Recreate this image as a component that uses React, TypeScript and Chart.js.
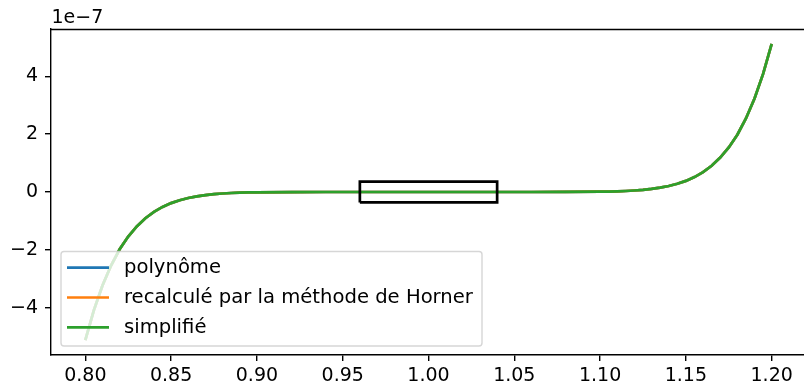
import React, { useEffect, useRef } from "react";
import { Chart, registerables } from "chart.js";

Chart.register(...registerables);

// x positions of the sampled curve
const xValues = [
  0.8, 0.805, 0.81, 0.815, 0.82, 0.825, 0.83, 0.835, 0.84, 0.845, 0.85, 0.855, 0.86, 0.865, 0.87, 0.875,
  0.88, 0.885, 0.89, 0.895, 0.9, 0.92, 0.94, 0.96, 0.98, 1.0, 1.02, 1.04, 1.06, 1.08, 1.1, 1.105, 1.11,
  1.115, 1.12, 1.125, 1.13, 1.135, 1.14, 1.145, 1.15, 1.155, 1.16, 1.165, 1.17, 1.175, 1.18, 1.185, 1.19,
  1.195, 1.2,
];

// values in units of 1e-7
const polynomeValues = [
  -5.12, -4.08, -3.23, -2.54, -1.98, -1.54, -1.19, -0.906, -0.687, -0.516, -0.384, -0.283, -0.207, -0.149,
  -0.106, -0.0745, -0.0516, -0.0352, -0.0236, -0.0155, -0.01, -0.0013, -0.0001, 0, 0, 0, 0, 0, 0.0001,
  0.0013, 0.01, 0.0155, 0.0236, 0.0352, 0.0516, 0.0745, 0.106, 0.149, 0.207, 0.283, 0.384, 0.516, 0.687,
  0.906, 1.19, 1.54, 1.98, 2.54, 3.23, 4.08, 5.12,
];
const hornerValues = [
  -5.12, -4.08, -3.23, -2.54, -1.98, -1.54, -1.19, -0.906, -0.687, -0.516, -0.384, -0.283, -0.207, -0.149,
  -0.106, -0.0745, -0.0516, -0.0352, -0.0236, -0.0155, -0.01, -0.0013, -0.0001, 0, 0, 0, 0, 0, 0.0001,
  0.0013, 0.01, 0.0155, 0.0236, 0.0352, 0.0516, 0.0745, 0.106, 0.149, 0.207, 0.283, 0.384, 0.516, 0.687,
  0.906, 1.19, 1.54, 1.98, 2.54, 3.23, 4.08, 5.12,
];
const simplifieValues = [
  -5.12, -4.08, -3.23, -2.54, -1.98, -1.54, -1.19, -0.906, -0.687, -0.516, -0.384, -0.283, -0.207, -0.149,
  -0.106, -0.0745, -0.0516, -0.0352, -0.0236, -0.0155, -0.01, -0.0013, -0.0001, 0, 0, 0, 0, 0, 0.0001,
  0.0013, 0.01, 0.0155, 0.0236, 0.0352, 0.0516, 0.0745, 0.106, 0.149, 0.207, 0.283, 0.384, 0.516, 0.687,
  0.906, 1.19, 1.54, 1.98, 2.54, 3.23, 4.08, 5.12,
];

// zoom rectangle corners
const boxX = [0.96, 1.04, 1.04, 0.96, 0.96];
const boxY = [-0.36, -0.36, 0.36, 0.36, -0.36];

const seriesLabels = ["polynôme", "recalculé par la méthode de Horner", "simplifié"];
const seriesColors = ["#1f77b4", "#ff7f0e", "#2ca02c"];

const xTicks = [0.8, 0.85, 0.9, 0.95, 1.0, 1.05, 1.1, 1.15, 1.2];
const yTicks = [-4, -2, 0, 2, 4];
const offsetLabel = "1e\u22127";

const FONT = "DejaVu Sans";
const FS = 19;
const LEGEND_FS = 19.6;

export default function App() {
  const ref = useRef<HTMLCanvasElement | null>(null);

  useEffect(() => {
    document.body.style.margin = "0";
    const canvas = ref.current;
    if (!canvas) return;

    const toPts = (ys: number[]) => xValues.map((x, i) => ({ x, y: ys[i] }));
    const all = [polynomeValues, hornerValues, simplifieValues];

    const datasets: any[] = all.map((vals, i) => ({
      label: seriesLabels[i],
      data: toPts(vals),
      borderColor: seriesColors[i],
      backgroundColor: seriesColors[i],
      borderWidth: 2.7,
      pointRadius: 0,
      showLine: true,
      fill: false,
      tension: 0,
      order: 2 - i,
    }));
    datasets.push({
      label: "box",
      data: boxX.map((x, i) => ({ x, y: boxY[i] })),
      borderColor: "#000000",
      borderWidth: 2.7,
      pointRadius: 0,
      showLine: true,
      fill: false,
      order: -1,
    });

    const overlay = {
      id: "overlay",
      afterDatasetsDraw(chart: any) {
        const ctx = chart.ctx;
        const a = chart.chartArea;
        ctx.save();
        // top spine
        ctx.strokeStyle = "#000";
        ctx.lineWidth = 1.4;
        ctx.beginPath();
        ctx.moveTo(a.left, a.top + 0.5);
        ctx.lineTo(a.right + 5, a.top + 0.5);
        ctx.stroke();
        // offset text
        ctx.fillStyle = "#000";
        ctx.font = `${FS}px '${FONT}'`;
        ctx.textAlign = "left";
        ctx.textBaseline = "alphabetic";
        ctx.fillText(offsetLabel, a.left + 0.5, a.top - 6.5);

        // legend
        const lx = 61, ly = 251.5, lw = 421, lh = 94.5, r = 3;
        ctx.beginPath();
        ctx.moveTo(lx + r, ly);
        ctx.lineTo(lx + lw - r, ly);
        ctx.quadraticCurveTo(lx + lw, ly, lx + lw, ly + r);
        ctx.lineTo(lx + lw, ly + lh - r);
        ctx.quadraticCurveTo(lx + lw, ly + lh, lx + lw - r, ly + lh);
        ctx.lineTo(lx + r, ly + lh);
        ctx.quadraticCurveTo(lx, ly + lh, lx, ly + lh - r);
        ctx.lineTo(lx, ly + r);
        ctx.quadraticCurveTo(lx, ly, lx + r, ly);
        ctx.closePath();
        ctx.fillStyle = "rgba(255,255,255,0.8)";
        ctx.fill();
        ctx.strokeStyle = "rgba(204,204,204,0.8)";
        ctx.lineWidth = 1.4;
        ctx.stroke();
        const rowY = [267.7, 297.5, 327.3];
        ctx.font = `${LEGEND_FS}px '${FONT}'`;
        seriesLabels.forEach((lab, i) => {
          ctx.strokeStyle = seriesColors[i];
          ctx.lineWidth = 2.7;
          ctx.beginPath();
          ctx.moveTo(67, rowY[i]);
          ctx.lineTo(109, rowY[i]);
          ctx.stroke();
          ctx.fillStyle = "#000";
          ctx.textBaseline = "middle";
          ctx.fillText(lab, 124, rowY[i] + 0.5);
        });
        ctx.restore();
      },
    };

    const chart = new Chart(canvas, {
      type: "scatter",
      data: { datasets },
      options: {
        animation: false,
        responsive: false,
        maintainAspectRatio: false,
        devicePixelRatio: 1,
        layout: { padding: { top: 29, left: 0, right: 0, bottom: 0 } },
        plugins: { legend: { display: false }, tooltip: { enabled: false } },
        scales: {
          x: {
            type: "linear",
            min: 0.78,
            max: 1.22,
            afterFit: (s: any) => {
              s.height = 32;
            },
            afterBuildTicks: (s: any) => {
              s.ticks = xTicks.map((v) => ({ value: v }));
            },
            ticks: {
              color: "#000",
              font: { family: FONT, size: FS },
              padding: 4,
              maxRotation: 0,
              autoSkip: false,
              callback: (v: any) => Number(v).toFixed(2),
            },
            grid: {
              display: true,
              drawOnChartArea: false,
              drawTicks: true,
              tickLength: 6,
              tickColor: "#000",
              lineWidth: 1.4,
            },
            border: { display: true, color: "#000", width: 1.4 },
          },
          y: {
            type: "linear",
            min: -5.632,
            max: 5.632,
            afterFit: (s: any) => {
              s.width = 51;
            },
            afterBuildTicks: (s: any) => {
              s.ticks = yTicks.map((v) => ({ value: v }));
            },
            ticks: {
              color: "#000",
              font: { family: FONT, size: FS },
              padding: 7,
              autoSkip: false,
              callback: (v: any) => (Number(v) < 0 ? "\u2212" + Math.abs(Number(v)) : String(v)),
            },
            grid: {
              display: true,
              drawOnChartArea: false,
              drawTicks: true,
              tickLength: 6,
              tickColor: "#000",
              lineWidth: 1.4,
            },
            border: { display: true, color: "#000", width: 1.4 },
          },
        },
      },
      plugins: [overlay],
    } as any);

    return () => chart.destroy();
  }, []);

  return (
    <div style={{ position: "absolute", left: 0, top: 0, width: 804, height: 387, overflow: "hidden", background: "#fff" }}>
      <canvas ref={ref} width={806} height={387} style={{ width: 806, height: 387, display: "block" }} />
    </div>
  );
}
